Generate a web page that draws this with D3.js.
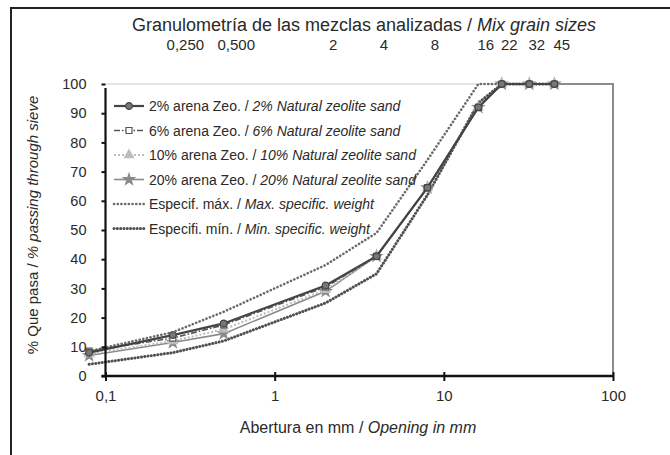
<!DOCTYPE html>
<html><head><meta charset="utf-8">
<script src="https://cdn.jsdelivr.net/npm/d3@7"></script>
<style>body{margin:0;background:#fff} svg{display:block;font-family:"Liberation Sans",Arial,sans-serif}</style>
</head><body><svg id="c" width="670" height="455"></svg>
<script>
// ---- data ----
const sieves = [0.08, 0.25, 0.5, 2, 4, 8, 16, 22, 32, 45];
const mix2  = [8, 14, 18, 31, 41, 64.5, 92, 100, 100, 100];
const mix6  = [8.5, 13, 17.5, 30.5, 41, 64.5, 92, 100, 100, 100];
const mix10 = [7.5, 12, 16, 29.5, 41, 64.5, 92, 100, 100, 100];
const mix20 = [7, 11.5, 14.5, 29, 41, 64.5, 92, 100, 100, 100];
const specMax = [8.5, 15, 22, 38, 49, 74, 100, 100, 100, 100];
const specMin = [4, 8, 12, 25, 35, 62, 93.5, 100, 100, 100];
const topTickValues = [0.25, 0.5, 2, 4, 8, 16, 22, 32, 45];
const topTickLabels = ["0,250", "0,500", "2", "4", "8", "16", "22", "32", "45"];
const bottomTickValues = [0.1, 1, 10, 100];
const bottomTickLabels = ["0,1", "1", "10", "100"];
const yTickValues = [0, 10, 20, 30, 40, 50, 60, 70, 80, 90, 100];
const legendMain = ["2% arena Zeo. / ", "6% arena Zeo. / ", "10% arena Zeo. / ", "20% arena Zeo. / ", "Especif. máx. / ", "Especifi. mín. / "];
const legendItalic = ["2% Natural zeolite sand", "6% Natural zeolite sand", "10% Natural zeolite sand", "20% Natural zeolite sand", "Max. specific. weight", "Min. specific. weight"];
const titleMain = "Granulometría de las mezclas analizadas / ";
const titleItalic = "Mix grain sizes";
const xTitleMain = "Abertura en mm / ", xTitleItalic = "Opening in mm";
const yTitleMain = "% Que pasa / ", yTitleItalic = "% passing through sieve";

// ---- styles ----
const styles = [
  {values: specMax, stroke:"#6a6a6a", width:2.6, dash:"0.1,3.6", cap:"round", symbol:null},
  {values: specMin, stroke:"#505050", width:3, dash:"0.1,3.2", cap:"round", symbol:null},
  {values: mix20, stroke:"#8a8a8a", width:1.6, dash:null, symbol:d3.symbolStar, size:38, fill:"#8a8a8a", sstroke:"#8a8a8a"},
  {values: mix10, stroke:"#bdbdbd", width:2, dash:"2,2", symbol:d3.symbolTriangle, size:36, fill:"#bdbdbd", sstroke:"#bdbdbd"},
  {values: mix6, stroke:"#555", width:1.6, dash:"6,2,1.5,2", symbol:d3.symbolSquare, size:36, fill:"#fff", sstroke:"#555"},
  {values: mix2, stroke:"#444", width:2.2, dash:null, symbol:d3.symbolCircle, size:36, fill:"#777", sstroke:"#444"}
];
const legendOrder = [5,4,3,2,0,1];
const FONT = "Liberation Sans, Arial, sans-serif";
const TXT = "#2a2a2a";

const svg = d3.select("#c");
const x = d3.scaleLog().domain([0.1, 100]).range([105.5, 613]);
const y = d3.scaleLinear().domain([0, 100]).range([376, 84]);

// outer frame
svg.append("rect").attr("x",11).attr("y",8).attr("width",700).attr("height",500)
  .attr("fill","none").attr("stroke","#222").attr("stroke-width",2);

// title
const t = svg.append("text").attr("x",364).attr("y",31).attr("text-anchor","middle")
  .attr("font-size",18).attr("fill",TXT);
t.append("tspan").text(titleMain);
t.append("tspan").attr("font-style","italic").text(titleItalic);

// plot border
svg.append("line").attr("x1",x(0.1)).attr("x2",x(100)).attr("y1",y(100)).attr("y2",y(100))
  .attr("stroke","#ddd").attr("stroke-width",1.5);
svg.append("path").attr("d", `M${x(45)},${y(100)}H${x(100)}V${y(0)}`)
  .attr("fill","none").attr("stroke","#8c8c8c").attr("stroke-width",2);

// series
const line = d3.line().x((d,i)=>x(sieves[i])).y(d=>y(d));
styles.forEach(s=>{
  svg.append("path").attr("d", line(s.values)).attr("fill","none")
    .attr("stroke", s.stroke).attr("stroke-width", s.width)
    .attr("stroke-dasharray", s.dash).attr("stroke-linecap", s.cap||"butt");
  if (s.symbol) {
    svg.append("g").selectAll("path").data(s.values).join("path")
      .attr("transform",(d,i)=>`translate(${x(sieves[i])},${y(d)})`)
      .attr("d", d3.symbol(s.symbol, s.size))
      .attr("fill", s.fill).attr("stroke", s.sstroke).attr("stroke-width",1.2);
  }
});

// axes
const yAxis = d3.axisLeft(y).tickValues(yTickValues).tickSize(4).tickPadding(15).tickFormat(d3.format("d"));
const gy = svg.append("g").attr("transform",`translate(${x(0.1)},0)`).call(yAxis);
gy.select(".domain").attr("stroke","#111").attr("stroke-width",2.2).attr("d",`M0,${y(0)}V${y(100)+4}`);
gy.selectAll(".tick line").attr("stroke","#111").attr("stroke-width",2);
gy.selectAll("text").attr("font-size",14.5).attr("fill",TXT).attr("font-family",FONT);

const xAxis = d3.axisBottom(x).tickValues(bottomTickValues).tickSize(5).tickPadding(9)
  .tickFormat((d,i)=>bottomTickLabels[i]);
const gx = svg.append("g").attr("transform",`translate(0,${y(0)})`).call(xAxis);
gx.select(".domain").attr("stroke","#111").attr("stroke-width",2.4).attr("d",`M${x(0.1)-4},0H${x(100)}`);
gx.selectAll(".tick line").attr("stroke","#111").attr("stroke-width",2).attr("y1",-4);
gx.selectAll("text").attr("font-size",15).attr("fill",TXT).attr("font-family",FONT);

const topAxis = d3.axisTop(x).tickValues(topTickValues).tickSize(0).tickPadding(3)
  .tickFormat((d,i)=>topTickLabels[i]);
const gt = svg.append("g").attr("transform","translate(0,53)").call(topAxis);
gt.select(".domain").remove();
gt.selectAll("text").attr("font-size",15).attr("fill",TXT).attr("dx",d=>d<1?12:7).attr("font-family",FONT);

// axis titles
const xt = svg.append("text").attr("x",358).attr("y",433).attr("text-anchor","middle").attr("font-size",16).attr("fill",TXT);
xt.append("tspan").text(xTitleMain);
xt.append("tspan").attr("font-style","italic").text(xTitleItalic);
const yt = svg.append("text").attr("transform","translate(38,225) rotate(-90)").attr("text-anchor","middle").attr("font-size",15).attr("fill",TXT);
yt.append("tspan").text(yTitleMain);
yt.append("tspan").attr("font-style","italic").text(yTitleItalic);

// legend
const lg = svg.append("g");
legendOrder.forEach((si,row)=>{
  const s = styles[si];
  const ly = 106 + row*24.5;
  lg.append("line").attr("x1",114).attr("x2",144).attr("y1",ly).attr("y2",ly)
    .attr("stroke",s.stroke).attr("stroke-width",s.width).attr("stroke-dasharray",s.dash).attr("stroke-linecap",s.cap||"butt");
  if (s.symbol) lg.append("path").attr("transform",`translate(129,${ly})`).attr("d",d3.symbol(s.symbol,s.size))
    .attr("fill",s.fill).attr("stroke",s.sstroke).attr("stroke-width",1.2);
  const tx = lg.append("text").attr("x",149).attr("y",ly+5).attr("font-size",14).attr("fill",TXT);
  tx.append("tspan").text(legendMain[row]);
  tx.append("tspan").attr("font-style","italic").text(legendItalic[row]);
});
</script></body></html>
